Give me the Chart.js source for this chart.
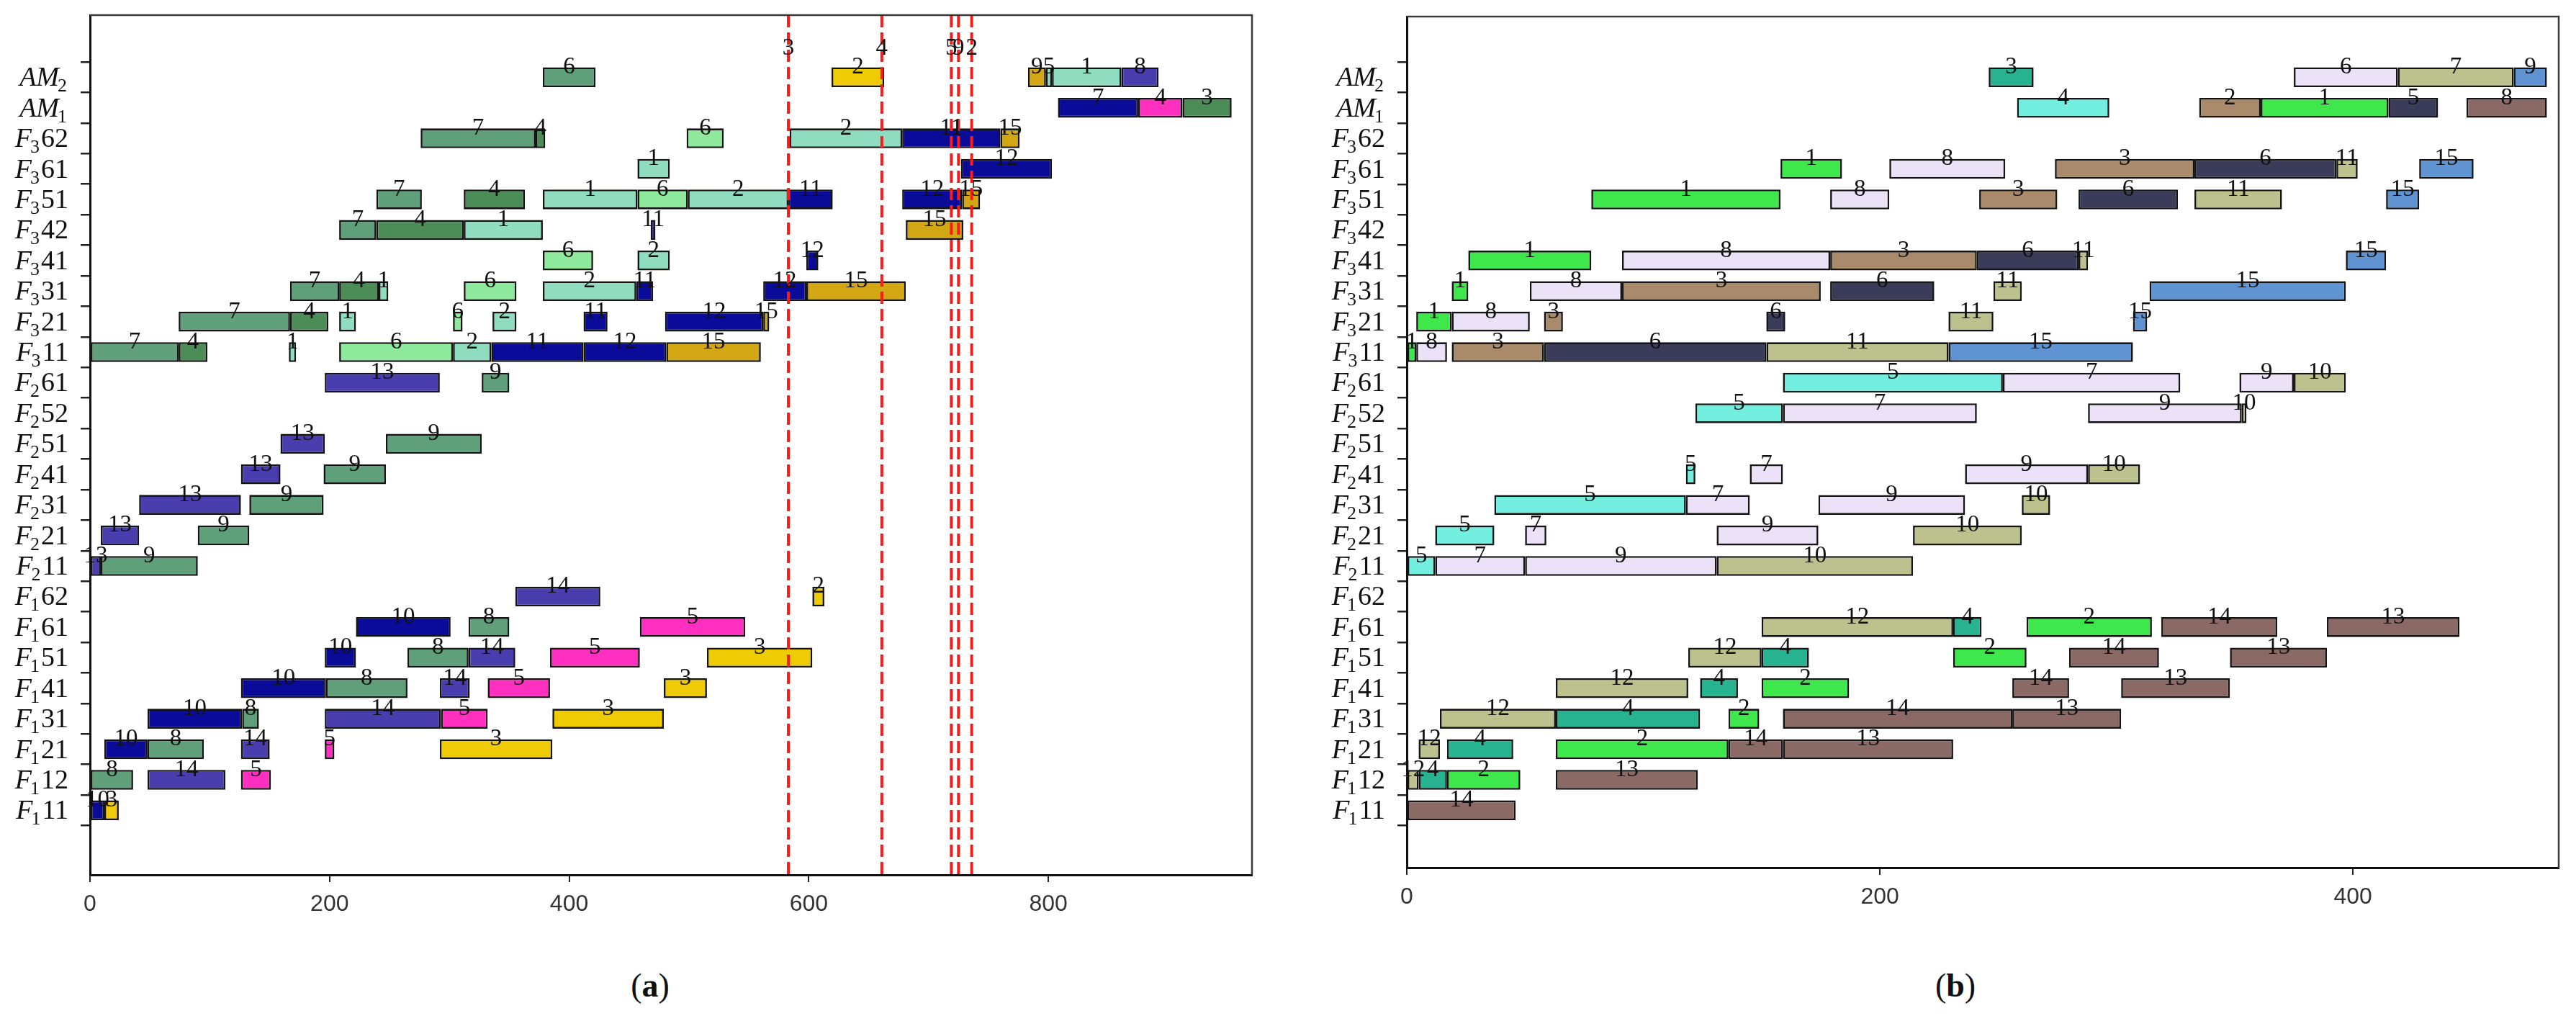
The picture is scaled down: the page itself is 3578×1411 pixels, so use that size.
<!DOCTYPE html>
<html><head><meta charset="utf-8">
<script src="https://cdn.jsdelivr.net/npm/chart.js@4.4.1/dist/chart.umd.min.js"></script>
<style>
html,body{margin:0;padding:0;background:#fff;}
body{width:3578px;height:1411px;position:relative;overflow:hidden;}
.wrap{position:absolute;top:0;height:1300px;}
#wa{left:0;width:1790px;}
#wb{left:1790px;width:1788px;}
.cap{position:absolute;top:1346px;font-family:"Liberation Serif",serif;font-size:46px;line-height:46px;color:#111;transform:translateX(-50%);}
</style></head><body>
<div class="wrap" id="wa"><canvas id="ca"></canvas></div>
<div class="wrap" id="wb"><canvas id="cb"></canvas></div>
<div class="cap" style="left:903px">(<b>a</b>)</div>
<div class="cap" style="left:2716px">(<b>b</b>)</div>
<script>
// machines, bottom to top
const machines = ['F_1 11','F_1 12','F_1 21','F_1 31','F_1 41','F_1 51','F_1 61','F_1 62',
  'F_2 11','F_2 21','F_2 31','F_2 41','F_2 51','F_2 52','F_2 61',
  'F_3 11','F_3 21','F_3 31','F_3 41','F_3 42','F_3 51','F_3 61','F_3 62','AM_1','AM_2'];

// ---------- panel (a) ----------
const xTicksA = [0, 200, 400, 600, 800];
const barMachineA = [
 'AM_2','AM_2','AM_2','AM_2','AM_2','AM_2',
 'AM_1','AM_1','AM_1',
 'F_3 62','F_3 62','F_3 62','F_3 62','F_3 62','F_3 62',
 'F_3 61','F_3 61',
 'F_3 51','F_3 51','F_3 51','F_3 51','F_3 51','F_3 51','F_3 51','F_3 51',
 'F_3 42','F_3 42','F_3 42','F_3 42','F_3 42',
 'F_3 41','F_3 41','F_3 41',
 'F_3 31','F_3 31','F_3 31','F_3 31','F_3 31','F_3 31','F_3 31','F_3 31',
 'F_3 21','F_3 21','F_3 21','F_3 21','F_3 21','F_3 21','F_3 21','F_3 21',
 'F_3 11','F_3 11','F_3 11','F_3 11','F_3 11','F_3 11','F_3 11','F_3 11',
 'F_2 61','F_2 61',
 'F_2 51','F_2 51',
 'F_2 41','F_2 41',
 'F_2 31','F_2 31',
 'F_2 21','F_2 21',
 'F_2 11','F_2 11',
 'F_1 62','F_1 62',
 'F_1 61','F_1 61','F_1 61',
 'F_1 51','F_1 51','F_1 51','F_1 51','F_1 51',
 'F_1 41','F_1 41','F_1 41','F_1 41','F_1 41',
 'F_1 31','F_1 31','F_1 31','F_1 31','F_1 31',
 'F_1 21','F_1 21','F_1 21','F_1 21','F_1 21',
 'F_1 12','F_1 12','F_1 12',
 'F_1 11','F_1 11'];
const barStartA = [
 378,619,783,798,803,861,
 808,875,912,
 276,372,498,584,678,760,
 457,727,
 239,312,378,457,499,583,678,728,
 208,239,312,468,681,
 378,457,598,
 167,208,241,312,378,456,562,598,
 74,167,208,303,336,412,480,562,
 0,74,166,208,303,335,412,481,
 196,327,
 159,247,
 126,195,
 41,133,
 9,90,
 0,9,
 355,603,
 222,316,459,
 196,265,316,384,515,
 126,197,292,332,479,
 48,127,196,293,386,
 12,48,126,196,292,
 0,48,126,
 0,12];
const barEndA = [
 422,663,798,803,861,892,
 875,912,953,
 372,380,529,678,760,776,
 484,803,
 277,363,457,499,583,620,728,743,
 239,312,378,472,729,
 420,484,608,
 208,241,249,356,456,470,598,681,
 167,199,222,311,356,432,562,567,
 74,98,172,303,335,412,481,560,
 292,350,
 196,327,
 159,247,
 126,195,
 41,133,
 9,90,
 426,613,
 301,350,547,
 222,316,355,459,603,
 197,265,317,384,515,
 127,141,293,332,479,
 48,95,150,204,386,
 36,113,151,
 12,24];
const barJobA = [
 '6','2','9','5','1','8',
 '7','4','3',
 '7','4','6','2','11','15',
 '1','12',
 '7','4','1','6','2','11','12','15',
 '7','4','1','11','15',
 '6','2','12',
 '7','4','1','6','2','11','12','15',
 '7','4','1','6','2','11','12','15',
 '7','4','1','6','2','11','12','15',
 '13','9',
 '13','9',
 '13','9',
 '13','9',
 '13','9',
 '13','9',
 '14','2',
 '10','8','5',
 '10','8','14','5','3',
 '10','8','14','5','3',
 '10','8','14','5','3',
 '10','8','14','5','3',
 '8','14','5',
 '10','3'];
const barGroupA = [
 'G','YE','GD','LA','LA','SB',
 'NV','MG','DG',
 'G','DG','LG','LA','NV','GD',
 'LA','NV',
 'G','DG','LA','LG','LA','NV','NV','GD',
 'G','DG','LA','NV','GD',
 'LG','LA','NV',
 'G','DG','LA','LG','LA','NV','NV','GD',
 'G','DG','LA','LG','LA','NV','NV','GD',
 'G','DG','LA','LG','LA','NV','NV','GD',
 'SB','G',
 'SB','G',
 'SB','G',
 'SB','G',
 'SB','G',
 'SB','G',
 'SB','YE',
 'NV','G','MG',
 'NV','G','SB','MG','YE',
 'NV','G','SB','MG','YE',
 'NV','G','SB','MG','YE',
 'NV','G','SB','MG','YE',
 'G','SB','MG',
 'NV','YE'];
const lineTimesA = [583, 661, 719, 725, 736];
const lineLabelsA = ['3', '4', '5', '9', '2'];

// ---------- panel (b) ----------
const xTicksB = [0, 200, 400];
const barMachineB = [
 'AM_2','AM_2','AM_2','AM_2',
 'AM_1','AM_1','AM_1','AM_1','AM_1',
 'F_3 61','F_3 61','F_3 61','F_3 61','F_3 61','F_3 61',
 'F_3 51','F_3 51','F_3 51','F_3 51','F_3 51','F_3 51',
 'F_3 41','F_3 41','F_3 41','F_3 41','F_3 41','F_3 41',
 'F_3 31','F_3 31','F_3 31','F_3 31','F_3 31','F_3 31',
 'F_3 21','F_3 21','F_3 21','F_3 21','F_3 21','F_3 21',
 'F_3 11','F_3 11','F_3 11','F_3 11','F_3 11','F_3 11',
 'F_2 61','F_2 61','F_2 61','F_2 61',
 'F_2 52','F_2 52','F_2 52','F_2 52',
 'F_2 41','F_2 41','F_2 41','F_2 41',
 'F_2 31','F_2 31','F_2 31','F_2 31',
 'F_2 21','F_2 21','F_2 21','F_2 21',
 'F_2 11','F_2 11','F_2 11','F_2 11',
 'F_1 61','F_1 61','F_1 61','F_1 61','F_1 61',
 'F_1 51','F_1 51','F_1 51','F_1 51','F_1 51',
 'F_1 41','F_1 41','F_1 41','F_1 41','F_1 41',
 'F_1 31','F_1 31','F_1 31','F_1 31','F_1 31',
 'F_1 21','F_1 21','F_1 21','F_1 21','F_1 21',
 'F_1 12','F_1 12','F_1 12','F_1 12',
 'F_1 11'];
const barStartB = [
 246,375,419,468,
 258,335,361,415,448,
 158,204,274,333,393,428,
 78,179,242,284,333,414,
 26,91,179,241,284,397,
 19,52,91,179,248,314,
 4,19,58,152,229,307,
 0,4,19,58,152,229,
 159,252,352,375,
 122,159,288,353,
 118,145,236,288,
 37,118,174,260,
 12,50,131,214,
 0,12,50,131,
 150,231,262,319,389,
 119,150,231,280,348,
 63,124,150,256,302,
 14,63,136,159,256,
 5,17,63,136,159,
 0,5,17,63,
 0];
const barEndB = [
 265,419,468,482,
 297,361,415,436,482,
 184,253,333,393,402,451,
 158,204,275,326,370,428,
 78,179,241,284,288,414,
 26,91,175,223,260,397,
 19,52,66,160,248,313,
 4,17,58,152,229,307,
 252,327,375,397,
 159,241,353,355,
 122,159,288,310,
 118,145,236,272,
 37,59,174,260,
 12,50,131,214,
 231,243,315,368,445,
 150,170,262,318,389,
 119,140,187,280,348,
 63,124,149,256,302,
 14,45,136,159,231,
 5,17,48,123,
 46];
const barJobB = [
 '3','6','7','9',
 '4','2','1','5','8',
 '1','8','3','6','11','15',
 '1','8','3','6','11','15',
 '1','8','3','6','11','15',
 '1','8','3','6','11','15',
 '1','8','3','6','11','15',
 '1','8','3','6','11','15',
 '5','7','9','10',
 '5','7','9','10',
 '5','7','9','10',
 '5','7','9','10',
 '5','7','9','10',
 '5','7','9','10',
 '12','4','2','14','13',
 '12','4','2','14','13',
 '12','4','2','14','13',
 '12','4','2','14','13',
 '12','4','2','14','13',
 '12','4','2','13',
 '14'];
const barGroupB = [
 'TL','LV','KH','SB',
 'AQ','BR','BG','DS','RB',
 'BG','LV','BR','DS','KH','SB',
 'BG','LV','BR','DS','KH','SB',
 'BG','LV','BR','DS','KH','SB',
 'BG','LV','BR','DS','KH','SB',
 'BG','LV','BR','DS','KH','SB',
 'BG','LV','BR','DS','KH','SB',
 'AQ','LV','LV','KH',
 'AQ','LV','LV','KH',
 'AQ','LV','LV','KH',
 'AQ','LV','LV','KH',
 'AQ','LV','LV','KH',
 'AQ','LV','LV','KH',
 'KH','TL','BG','RB','RB',
 'KH','TL','BG','RB','RB',
 'KH','TL','BG','RB','RB',
 'KH','TL','BG','RB','RB',
 'KH','TL','BG','RB','RB',
 'KH','TL','BG','RB',
 'RB'];

// ---------- styles ----------
const paletteA = {G:'#5f9f79', DG:'#4c8d57', LA:'#8fdcc1', LG:'#8fe99c', NV:'#0b0b99',
                  SB:'#4a3eaf', GD:'#d2a713', YE:'#efcb06', MG:'#ff30bf'};
const paletteB = {BG:'#3ee74b', LV:'#ece2f7', BR:'#a98b6b', DS:'#3b3b5a', KH:'#bdc18d',
                  SB:'#5f93d2', AQ:'#73efdf', TL:'#27b390', RB:'#8b6a65'};

const ganttPlugin = {
  id: 'gantt',
  afterDatasetsDraw(chart, args, opts) {
    const ctx = chart.ctx, area = chart.chartArea;
    const xs = chart.scales.x, ys = chart.scales.y;
    const meta = chart.getDatasetMeta(0);
    if (opts.lines) {
      ctx.save();
      ctx.beginPath(); ctx.rect(area.left, area.top, area.right - area.left, area.bottom - area.top); ctx.clip();
      ctx.strokeStyle = '#ff1a1a'; ctx.lineWidth = 4; ctx.setLineDash([17, 7]);
      opts.lines.forEach(t => {
        const px = xs.getPixelForValue(t);
        ctx.beginPath(); ctx.moveTo(px, area.top); ctx.lineTo(px, area.bottom); ctx.stroke();
      });
      ctx.restore();
    }
    ctx.save();
    ctx.font = '33px "Liberation Serif", serif';
    ctx.fillStyle = '#111'; ctx.textAlign = 'center'; ctx.textBaseline = 'middle';
    meta.data.forEach((el, i) => {
      const p = el.getProps(['x', 'y', 'base', 'height'], true);
      ctx.fillText(opts.jobs[i], (p.x + p.base) / 2, p.y - p.height / 2);
    });
    if (opts.lines) {
      const ly = ys.getPixelForValue(opts.lineLabelY);
      opts.lines.forEach((t, k) => ctx.fillText(opts.lineLabels[k], xs.getPixelForValue(t), ly));
    }
    ctx.restore();
  },
  afterDraw(chart) {
    const ctx = chart.ctx, area = chart.chartArea, ys = chart.scales.y;
    ctx.save();
    ctx.strokeStyle = '#3a3a3a'; ctx.lineWidth = 2.5;
    ctx.beginPath(); ctx.moveTo(area.left, area.top); ctx.lineTo(area.right, area.top);
    ctx.lineTo(area.right, area.bottom); ctx.stroke();
    const right = area.left - 30;
    const fMain = 'italic 38px "Liberation Serif", serif';
    const fSub = '26px "Liberation Serif", serif';
    const fRest = '38px "Liberation Serif", serif';
    ctx.fillStyle = '#111'; ctx.textAlign = 'left'; ctx.textBaseline = 'alphabetic';
    machines.forEach((m, i) => {
      const parts = m.split(' ');
      const hs = parts[0].split('_');
      const main = hs[0], sub = hs[1], rest = parts[1] || '';
      ctx.font = fMain; const wM = ctx.measureText(main).width;
      ctx.font = fSub; const wS = ctx.measureText(sub).width;
      ctx.font = fRest; const wR = rest ? ctx.measureText(rest).width : 0;
      const y = ys.getPixelForValue(i);
      const base = y + 12;
      let x = right - (wM + wS + wR);
      ctx.font = fMain; ctx.fillText(main, x, base); x += wM;
      ctx.font = fSub; ctx.fillText(sub, x - 2, base + 8); x += wS;
      if (rest) { ctx.font = fRest; ctx.fillText(rest, x, base); }
    });
    ctx.restore();
  }
};

function makeChart(id, cfg) {
  const data = cfg.mach.map((m, i) => ({ x: [cfg.start[i], cfg.end[i]], y: machines.indexOf(m) }));
  return new Chart(document.getElementById(id), {
    type: 'bar',
    data: { datasets: [{
      data: data,
      backgroundColor: cfg.groups.map(g => cfg.palette[g]),
      borderColor: '#141414', borderWidth: 2.6, borderSkipped: false,
      grouped: false, categoryPercentage: 1, barPercentage: 0.65
    }] },
    options: {
      indexAxis: 'y', responsive: true, maintainAspectRatio: false, animation: false, devicePixelRatio: 1,
      layout: { padding: { top: cfg.padTop, right: cfg.padRight, left: 0, bottom: 0 } },
      plugins: {
        legend: { display: false }, tooltip: { enabled: false },
        gantt: { jobs: cfg.jobs, lines: cfg.lines, lineLabels: cfg.lineLabels, lineLabelY: cfg.lineLabelY }
      },
      scales: {
        x: {
          type: 'linear', min: 0, max: cfg.xMax,
          afterBuildTicks: s => { s.ticks = cfg.xTicks.map(v => ({ value: v })); },
          ticks: { font: { family: '"Liberation Sans", Arial, sans-serif', size: 32 }, color: '#333',
                   padding: 12, maxRotation: 0, autoSkip: false },
          grid: { display: true, drawOnChartArea: false, drawTicks: true, tickLength: 10, color: '#222', lineWidth: 2 },
          border: { display: true, color: '#111', width: 3 },
          afterFit: s => { s.height = cfg.xAxisH; }
        },
        y: {
          type: 'linear', min: cfg.yMin, max: cfg.yMax,
          afterBuildTicks: s => { s.ticks = machines.map((_, i) => ({ value: i })); },
          ticks: { display: false },
          grid: { display: true, drawOnChartArea: false, drawTicks: true, tickLength: 13, color: '#222', lineWidth: 2.5 },
          border: { display: true, color: '#111', width: 3 },
          afterFit: s => { s.width = cfg.yAxisW; }
        }
      }
    },
    plugins: [ganttPlugin]
  });
}

makeChart('ca', {
  mach: barMachineA, start: barStartA, end: barEndA, jobs: barJobA, groups: barGroupA, palette: paletteA,
  lines: lineTimesA, lineLabels: lineLabelsA, lineLabelY: 24.94,
  xTicks: xTicksA, xMax: 970, yMin: -1.55, yMax: 25.47,
  padTop: 21, padRight: 51, yAxisW: 125, xAxisH: 85
});
makeChart('cb', {
  mach: barMachineB, start: barStartB, end: barEndB, jobs: barJobB, groups: barGroupB, palette: paletteB,
  lines: null, lineLabels: null, lineLabelY: 0,
  xTicks: xTicksB, xMax: 487, yMin: -1.32, yMax: 25.43,
  padTop: 23, padRight: 24, yAxisW: 164, xAxisH: 95
});
</script>
</body></html>
